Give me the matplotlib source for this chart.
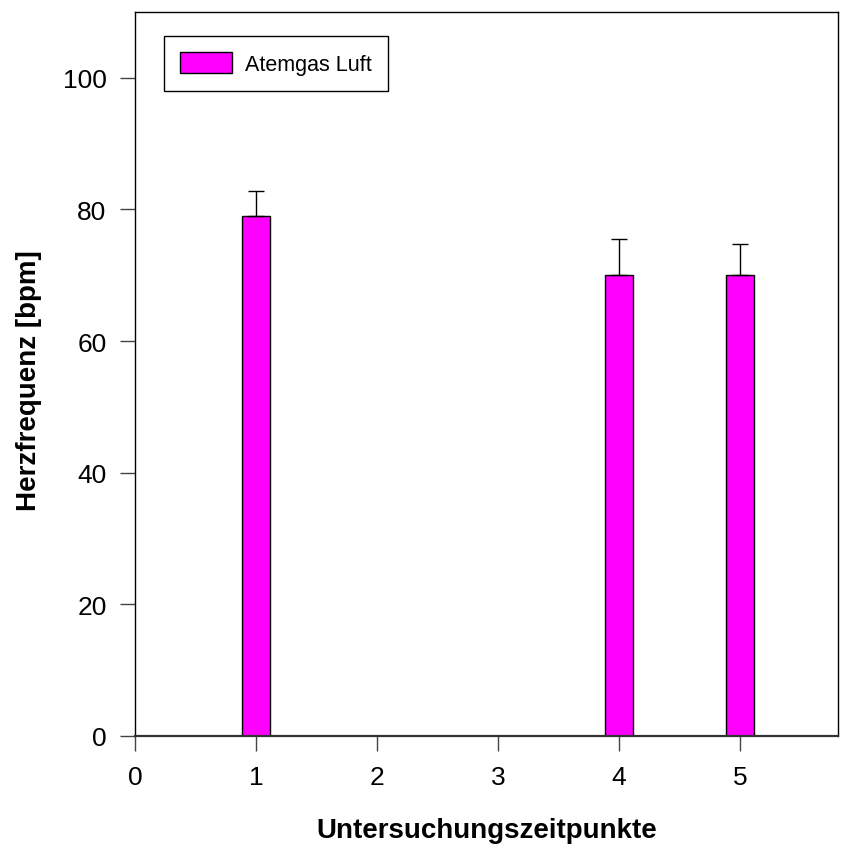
import matplotlib
matplotlib.use("Agg")
import matplotlib.pyplot as plt
import numpy as np

plt.rcParams['font.family'] = ['Liberation Sans', 'DejaVu Sans']

x_pos = [1, 4, 5]
values = [79, 70, 70]
errors = [3.8, 5.5, 4.8]
series_name = "Atemgas Luft"
xticks = [0, 1, 2, 3, 4, 5]
yticks = [0, 20, 40, 60, 80, 100]

fig = plt.figure(figsize=(8.49, 8.45), dpi=100)
ax = fig.add_axes([135/849, 1-737/845, (838-135)/849, (737-13)/845])

ax.bar(x_pos, values, width=0.225, color='#ff00ff', edgecolor='black', linewidth=1.0,
       label=series_name, zorder=2)
ax.errorbar(x_pos, values, yerr=[np.zeros(len(errors)), errors], fmt='none',
            ecolor='black', elinewidth=1.0, capsize=5.8, capthick=1.0, zorder=3)

ax.set_xlim(0, 5.81)
ax.set_ylim(0, 110)
ax.set_xticks(xticks)
ax.set_yticks(yticks)
ax.tick_params(axis='both', direction='out', length=10.5, width=1, labelsize=19,
               color='#444444')
ax.tick_params(axis='x', pad=10.5)
ax.tick_params(axis='y', pad=10)
for s in ax.spines.values():
    s.set_linewidth(1.0)
ax.spines['bottom'].set_linewidth(1.6)
ax.spines['bottom'].set_color('#333333')

ax.set_xlabel("Untersuchungszeitpunkte", fontsize=20, fontweight='bold')
ax.set_ylabel("Herzfrequenz [bpm]", fontsize=20, fontweight='bold')
ax.xaxis.set_label_coords(0.5, -(838-737)/724, transform=ax.transAxes)
ax.xaxis.label.set_va('baseline')
ax.yaxis.set_label_coords(-(135-29)/703, (737-381)/724, transform=ax.transAxes)
ax.yaxis.label.set_va('center')

leg = ax.legend(loc='upper left', bbox_to_anchor=(29/703, 1-24/724), fontsize=15.5,
                fancybox=False, edgecolor='black', framealpha=1,
                handlelength=2.4, handleheight=1.1, borderpad=0.75, handletextpad=0.6,
                borderaxespad=0)
leg.get_frame().set_linewidth(1.0)

fig.savefig("out.png", dpi=100)
